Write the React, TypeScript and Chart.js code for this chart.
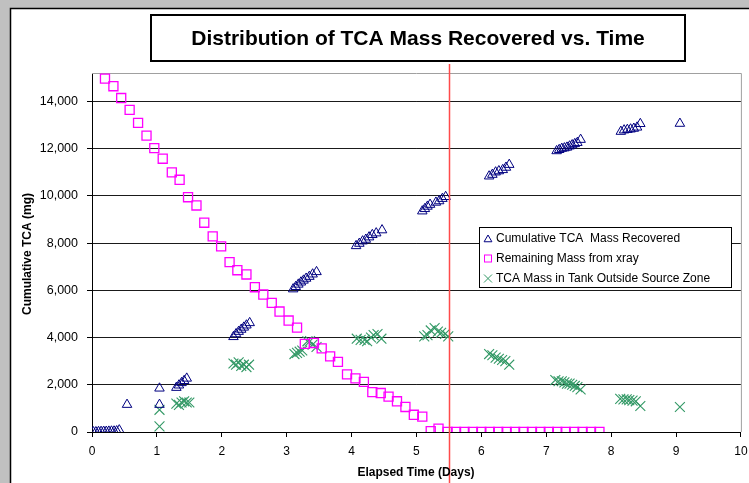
import React, { useEffect, useRef } from "react";
import { Chart, registerables } from "chart.js";

Chart.register(...registerables);

const W = 749;
const H = 483;

// ---- Data ----
const cumX = [
  0.02, 0.06, 0.1, 0.14, 0.18, 0.22, 0.26, 0.3, 0.34, 0.38, 0.42,
  0.54,
  1.04, 1.04,
  1.3, 1.34, 1.38, 1.42, 1.46,
  2.18, 2.22, 2.26, 2.3, 2.34, 2.38, 2.43,
  3.1, 3.14, 3.18, 3.22, 3.26, 3.3, 3.35, 3.4, 3.46,
  4.07, 4.12, 4.17, 4.22, 4.27, 4.32, 4.38, 4.47,
  5.09, 5.13, 5.17, 5.21, 5.3, 5.35, 5.4, 5.45,
  6.12, 6.17, 6.22, 6.27, 6.33, 6.38, 6.43,
  7.16, 7.2, 7.24, 7.28, 7.32, 7.36, 7.4, 7.44, 7.48, 7.53,
  8.15, 8.2, 8.25, 8.3, 8.35, 8.4, 8.45,
  9.06,
];
const cumY = [
  0, 0, 10, 15, 20, 20, 25, 30, 30, 40, 80,
  1160,
  1160, 1850,
  1880, 1980, 2080, 2170, 2270,
  4030, 4150, 4250, 4340, 4430, 4520, 4620,
  6050, 6150, 6250, 6340, 6420, 6500, 6580, 6680, 6780,
  7880, 7980, 8080, 8150, 8250, 8350, 8420, 8550,
  9350, 9450, 9550, 9630, 9720, 9780, 9880, 9960,
  10830, 10900, 11000, 11050, 11100, 11200, 11320,
  11900, 11950, 12000, 12020, 12050, 12100, 12150, 12200, 12250, 12380,
  12720, 12780, 12800, 12820, 12850, 12900, 13050,
  13060,
];

const remX = [
  0.2, 0.33, 0.45, 0.58, 0.71, 0.84, 0.96, 1.09, 1.23, 1.35,
  1.48, 1.61, 1.73, 1.86, 1.99, 2.12, 2.24, 2.38, 2.51, 2.64,
  2.77, 2.89, 3.03, 3.16, 3.28, 3.42, 3.54, 3.67, 3.79, 3.93,
  4.06, 4.19, 4.32, 4.45, 4.57, 4.7, 4.83, 4.96, 5.09, 5.22,
  5.34, 5.48, 5.61, 5.74, 5.87, 6.0, 6.13, 6.26, 6.39, 6.52,
  6.65, 6.78, 6.91, 7.04, 7.17, 7.3, 7.43, 7.56, 7.69, 7.82,
];
const remY = [
  14960, 14640, 14140, 13640, 13090, 12550, 12020, 11570, 10990, 10680,
  9940, 9590, 8860, 8280, 7860, 7190, 6850, 6670, 6130, 5820,
  5470, 5100, 4720, 4420, 3730, 3770, 3540, 3200, 2970, 2440,
  2270, 2120, 1690, 1650, 1500, 1300, 1060, 730, 650, 40,
  140, 0, 0, 0, 0, 0, 0, 0, 0, 0,
  0, 0, 0, 0, 0, 0, 0, 0, 0, 0,
];

const tankX = [
  1.04, 1.04,
  1.3, 1.34, 1.38, 1.42, 1.46, 1.5,
  2.18, 2.22, 2.26, 2.3, 2.34, 2.38, 2.42,
  3.12, 3.16, 3.2, 3.24, 3.32, 3.36, 3.4, 3.46,
  4.08, 4.14, 4.2, 4.24, 4.3, 4.34, 4.4, 4.46,
  5.12, 5.17, 5.22, 5.28, 5.33, 5.38, 5.44, 5.49,
  6.12, 6.17, 6.22, 6.27, 6.32, 6.37, 6.43,
  7.14, 7.19, 7.24, 7.28, 7.32, 7.36, 7.4, 7.44, 7.48, 7.53,
  8.14, 8.19, 8.24, 8.28, 8.33, 8.38, 8.45,
  9.06,
];
const tankY = [
  240, 940,
  1200, 1150, 1250, 1300, 1250, 1250,
  2900, 2850, 2950, 2800, 2850, 2750, 2850,
  3300, 3350, 3400, 3450, 3840, 3850, 3700, 3600,
  3950, 3900, 3900, 3850, 4000, 4100, 4150, 3950,
  4050, 4100, 4300, 4400, 4250, 4200, 4150, 4050,
  3300, 3250, 3150, 3100, 3050, 3000, 2850,
  2200, 2150, 2150, 2100, 2050, 2050, 2000, 1950, 1900, 1800,
  1400, 1380, 1380, 1350, 1330, 1300, 1100,
  1060,
];

const xTickValues = [0, 1, 2, 3, 4, 5, 6, 7, 8, 9, 10];
const yTickValues = [0, 2000, 4000, 6000, 8000, 10000, 12000, 14000];

const seriesNames = [
  "Cumulative TCA  Mass Recovered",
  "Remaining Mass from xray",
  "TCA Mass in Tank Outside Source Zone",
];
const titleText = "Distribution of TCA Mass Recovered vs. Time";
const xTitle = "Elapsed Time (Days)";
const yTitle = "Cumulative TCA (mg)";
const markerDay = 5.5;

const NAVY = "#000080";
const MAGENTA = "#ff00ff";
const GREEN = "#339966";
const FONT = "'Liberation Sans', Arial, sans-serif";

const pts = (xs: number[], ys: number[]) => xs.map((x, i) => ({ x, y: ys[i] }));

function drawTri(ctx: CanvasRenderingContext2D, x: number, y: number, r: number) {
  ctx.beginPath();
  ctx.moveTo(x, y - r);
  ctx.lineTo(x + r * 0.866, y + r * 0.5);
  ctx.lineTo(x - r * 0.866, y + r * 0.5);
  ctx.closePath();
  ctx.stroke();
}

const framePlugin = {
  id: "frame",
  beforeDraw(chart: any) {
    const ctx = chart.ctx;
    ctx.save();
    ctx.fillStyle = "#c0c0c0";
    ctx.fillRect(0, 0, W, H);
    ctx.fillStyle = "#ffffff";
    ctx.fillRect(10, 8, W - 10, H - 8);
    ctx.strokeStyle = "#000";
    ctx.lineWidth = 1.5;
    ctx.beginPath();
    ctx.moveTo(10.5, H);
    ctx.lineTo(10.5, 8.5);
    ctx.lineTo(W, 8.5);
    ctx.stroke();
    ctx.restore();
  },
  beforeDatasetsDraw(chart: any) {
    const { ctx, chartArea: a } = chart;
    ctx.save();
    ctx.strokeStyle = "#a0a0a0";
    ctx.lineWidth = 1;
    ctx.beginPath();
    ctx.moveTo(a.left, a.top + 0.5);
    ctx.lineTo(a.right + 0.5, a.top + 0.5);
    ctx.lineTo(a.right + 0.5, a.bottom);
    ctx.stroke();
    ctx.restore();
  },
  afterDatasetsDraw(chart: any) {
    const ctx = chart.ctx;
    const x = Math.round(chart.scales.x.getPixelForValue(markerDay)) + 0.5;
    ctx.save();
    ctx.strokeStyle = "#ff4a4a";
    ctx.lineWidth = 1.5;
    ctx.beginPath();
    ctx.moveTo(x, 64);
    ctx.lineTo(x, H);
    ctx.stroke();
    ctx.restore();
  },
  afterDraw(chart: any) {
    const ctx = chart.ctx;
    ctx.save();
    // Title box
    ctx.fillStyle = "#fff";
    ctx.fillRect(151, 15, 534, 46);
    ctx.strokeStyle = "#000";
    ctx.lineWidth = 2;
    ctx.strokeRect(151, 15, 534, 46);
    ctx.fillStyle = "#000";
    ctx.font = `bold 21px ${FONT}`;
    ctx.textAlign = "center";
    ctx.textBaseline = "middle";
    ctx.fillText(titleText, 418, 39);

    // Axis titles
    ctx.font = `bold 12px ${FONT}`;
    ctx.fillText(xTitle, 416, 473);
    ctx.save();
    ctx.translate(28, 254);
    ctx.rotate(-Math.PI / 2);
    ctx.fillText(yTitle, 0, 0);
    ctx.restore();

    // Legend
    ctx.fillStyle = "#fff";
    ctx.fillRect(479.5, 227.5, 252, 60);
    ctx.strokeStyle = "#000";
    ctx.lineWidth = 1;
    ctx.strokeRect(479.5, 227.5, 252, 60);
    const rows = [238.5, 258.5, 278.5];
    const mx = 488;
    ctx.strokeStyle = NAVY;
    ctx.lineWidth = 1;
    drawTri(ctx, mx, rows[0] + 1, 4.5);
    ctx.strokeStyle = MAGENTA;
    ctx.strokeRect(mx - 3.5, rows[1] - 3.5, 7, 7);
    ctx.strokeStyle = GREEN;
    ctx.beginPath();
    ctx.moveTo(mx - 4, rows[2] - 4);
    ctx.lineTo(mx + 4, rows[2] + 4);
    ctx.moveTo(mx + 4, rows[2] - 4);
    ctx.lineTo(mx - 4, rows[2] + 4);
    ctx.stroke();
    ctx.fillStyle = "#000";
    ctx.font = `12px ${FONT}`;
    ctx.textAlign = "left";
    ctx.textBaseline = "middle";
    seriesNames.forEach((n, i) => ctx.fillText(n, 496, rows[i]));
    ctx.restore();
  },
};

export default function App() {
  const ref = useRef<HTMLCanvasElement>(null);
  useEffect(() => {
    if (!ref.current) return;
    const chart = new Chart(ref.current, {
      type: "scatter",
      data: {
        datasets: [
          {
            label: seriesNames[0],
            data: pts(cumX, cumY),
            pointStyle: "triangle",
            radius: 5.5,
            borderColor: NAVY,
            backgroundColor: "rgba(0,0,0,0)",
            borderWidth: 1,
            showLine: false,
          },
          {
            label: seriesNames[1],
            data: pts(remX, remY),
            pointStyle: "rect",
            radius: 6.4,
            borderColor: MAGENTA,
            backgroundColor: "rgba(0,0,0,0)",
            borderWidth: 1.3,
            showLine: false,
          },
          {
            label: seriesNames[2],
            data: pts(tankX, tankY),
            pointStyle: "crossRot",
            radius: 7,
            borderColor: GREEN,
            backgroundColor: GREEN,
            borderWidth: 1.1,
            showLine: false,
          },
        ],
      },
      options: {
        responsive: false,
        animation: false,
        devicePixelRatio: 1,
        events: [],
        layout: { padding: { left: 0, top: 73, right: 7, bottom: 0 } },
        plugins: {
          legend: { display: false },
          tooltip: { enabled: false },
          title: { display: false },
        },
        scales: {
          x: {
            type: "linear",
            min: 0,
            max: 10,
            afterBuildTicks: (axis: any) => {
              axis.ticks = xTickValues.map((v) => ({ value: v }));
            },
            afterFit: (s: any) => {
              s.height = 51;
              s.paddingRight = 0;
              s.paddingLeft = 0;
            },
            grid: {
              drawOnChartArea: false,
              drawTicks: true,
              tickLength: 5,
              tickColor: "#000",
            },
            border: { color: "#000", width: 1 },
            ticks: {
              color: "#000",
              font: { family: FONT, size: 12 },
              padding: 7,
              maxRotation: 0,
            },
          },
          y: {
            type: "linear",
            min: 0,
            max: 15200,
            afterBuildTicks: (axis: any) => {
              axis.ticks = yTickValues.map((v) => ({ value: v }));
            },
            afterFit: (s: any) => {
              s.width = 92;
              s.paddingTop = 0;
              s.paddingBottom = 0;
            },
            grid: {
              color: "#1a1a1a",
              lineWidth: 1,
              drawTicks: true,
              tickLength: 5,
              tickColor: "#000",
            },
            border: { color: "#000", width: 1 },
            ticks: {
              color: "#000",
              font: { family: FONT, size: 12.5 },
              padding: 9,
              callback: (v: any) => Number(v).toLocaleString("en-US"),
            },
          },
        },
      },
      plugins: [framePlugin],
    } as any);
    return () => chart.destroy();
  }, []);

  return (
    <div style={{ position: "fixed", left: 0, top: 0, width: W, height: H, background: "#c0c0c0" }}>
      <canvas ref={ref} width={W} height={H} style={{ display: "block", width: W, height: H }} />
    </div>
  );
}
